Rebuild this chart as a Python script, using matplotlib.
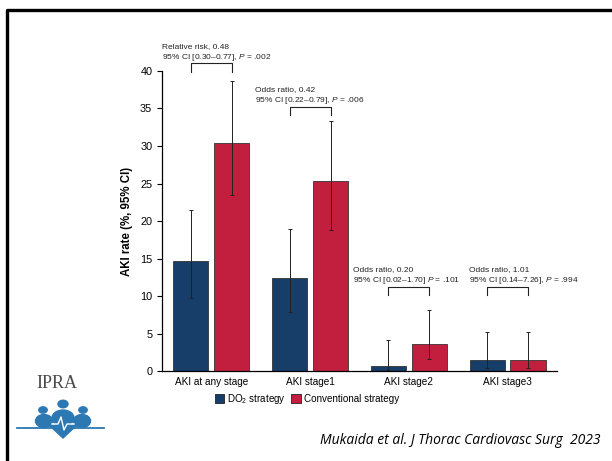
import numpy as np
import matplotlib
matplotlib.use("Agg")
import matplotlib.pyplot as plt
from matplotlib.lines import Line2D
from matplotlib.patches import Patch, Circle, Ellipse, Polygon

plt.rcParams['font.family'] = ['Liberation Sans', 'DejaVu Sans']
plt.rcParams['mathtext.fontset'] = 'custom'
plt.rcParams['mathtext.rm'] = 'Liberation Sans'
plt.rcParams['mathtext.it'] = 'Liberation Sans:italic'

# values
categories = ["AKI at any stage", "AKI stage1", "AKI stage2", "AKI stage3"]
do2_rate = [14.7, 12.45, 0.7, 1.5]
do2_lo = [9.7, 7.9, 0.1, 0.4]
do2_hi = [21.5, 19.0, 4.1, 5.15]
conv_rate = [30.4, 25.4, 3.6, 1.5]
conv_lo = [23.5, 18.8, 1.6, 0.4]
conv_hi = [38.7, 33.3, 8.2, 5.15]

effect_text = [
    "Relative risk, 0.48\n95% CI [0.30\u20130.77], $P$ = .002",
    "Odds ratio, 0.42\n95% CI [0.22\u20130.79], $P$ = .006",
    "Odds ratio, 0.20\n95% CI [0.02\u20131.70] $P$ = .101",
    "Odds ratio, 1.01\n95% CI [0.14\u20137.26], $P$ = .994",
]
bracket_top = [41.0, 35.2, 11.2, 11.2]
text_x = [-0.495, 0.444, 1.43, 2.61]

BLUE = "#173d69"
RED = "#c21f3f"
LOGO = "#2b78b3"

fig = plt.figure(figsize=(6.12, 4.61), dpi=100)
ax = fig.add_axes([0.2647, 0.1952, 0.6453, 0.6508])

x = np.arange(len(categories))
w = 0.355
off = 0.207
err_kw = dict(ecolor="#222222", elinewidth=0.7, capsize=1.5, capthick=0.7)
do2_err = [np.array(do2_rate) - np.array(do2_lo), np.array(do2_hi) - np.array(do2_rate)]
conv_err = [np.array(conv_rate) - np.array(conv_lo), np.array(conv_hi) - np.array(conv_rate)]
ax.bar(x - off, do2_rate, w, color=BLUE, edgecolor="#333333", linewidth=0.6,
       yerr=do2_err, error_kw=err_kw)
ax.bar(x + off, conv_rate, w, color=RED, edgecolor="#333333", linewidth=0.6,
       yerr=conv_err, error_kw=err_kw)

ax.set_xlim(-0.5, 3.5)
ax.set_ylim(0, 40)
ax.set_yticks(range(0, 41, 5))
ax.set_xticks(x)
ax.set_xticklabels(categories, fontsize=7.2)
ax.tick_params(axis='x', length=0, pad=4)
ax.tick_params(axis='y', labelsize=7.8, length=3.5, width=0.8)
for s in ["top", "right"]:
    ax.spines[s].set_visible(False)
for s in ["left", "bottom"]:
    ax.spines[s].set_linewidth(0.9)
ax.set_ylabel("AKI rate (%, 95% CI)", fontsize=8.3, fontweight="bold", labelpad=5)

# comparison brackets + effect sizes
for i in range(len(categories)):
    yt = bracket_top[i]
    ax.plot([i - off, i - off, i + off, i + off], [yt - 1.1, yt, yt, yt - 1.1],
            color="#222222", lw=0.8, clip_on=False)
    ax.text(text_x[i], yt + 0.1, effect_text[i], fontsize=6.0, ha="left", va="bottom",
            linespacing=1.3, color="#222222")

handles = [Patch(facecolor=BLUE, edgecolor="#222222", linewidth=0.6),
           Patch(facecolor=RED, edgecolor="#222222", linewidth=0.6)]
fig.legend(handles, ["DO$_2$ strategy", "Conventional strategy"], loc="center",
           bbox_to_anchor=(307 / 612, 1 - 399 / 461), ncol=2, frameon=False,
           fontsize=7.1, handlelength=0.95, handleheight=0.95, handletextpad=0.3,
           columnspacing=0.5, borderpad=0)

fig.text(600 / 612, 1 - 440 / 461, "Mukaida et al. J Thorac Cardiovasc Surg  2023",
         fontsize=10.0, style="italic", family="Open Sans", ha="right", va="center")

# slide border
fig.add_artist(Line2D([7 / 612, 7 / 612, 1.0], [0, 1 - 10.5 / 461, 1 - 10.5 / 461],
                      transform=fig.transFigure, color="black", lw=2.4))

# rough IPRA logo
def fx(px):
    return px / 612

def fy(py):
    return 1 - py / 461

fig.text(fx(57), fy(383), "IPRA", family="Liberation Serif", fontsize=13,
         color="#4a4a4a", ha="center", va="center")
for hx, hy, r in [(43, 410, 4.2), (63, 404, 5.0), (83, 410, 4.2)]:
    fig.add_artist(Circle((fx(hx), fy(hy)), r / 612, transform=fig.transFigure, color=LOGO))
for ex, ey, ew, eh in [(44, 421, 17, 13), (63, 418, 22, 16), (82, 421, 17, 13)]:
    fig.add_artist(Ellipse((fx(ex), fy(ey)), ew / 612, eh / 461,
                           transform=fig.transFigure, color=LOGO))
fig.add_artist(Polygon([(fx(49), fy(425)), (fx(77), fy(425)), (fx(63), fy(438))],
                       closed=True, transform=fig.transFigure, color=LOGO))
fig.add_artist(Line2D([fx(17), fx(104)], [fy(428), fy(428)],
                      transform=fig.transFigure, color=LOGO, lw=1.3))
fig.add_artist(Line2D([fx(52), fx(58), fx(61), fx(64), fx(67), fx(74)],
                      [fy(424), fy(424), fy(417), fy(430), fy(424), fy(424)],
                      transform=fig.transFigure, color="white", lw=1.0))

fig.savefig("out.png", dpi=100)
